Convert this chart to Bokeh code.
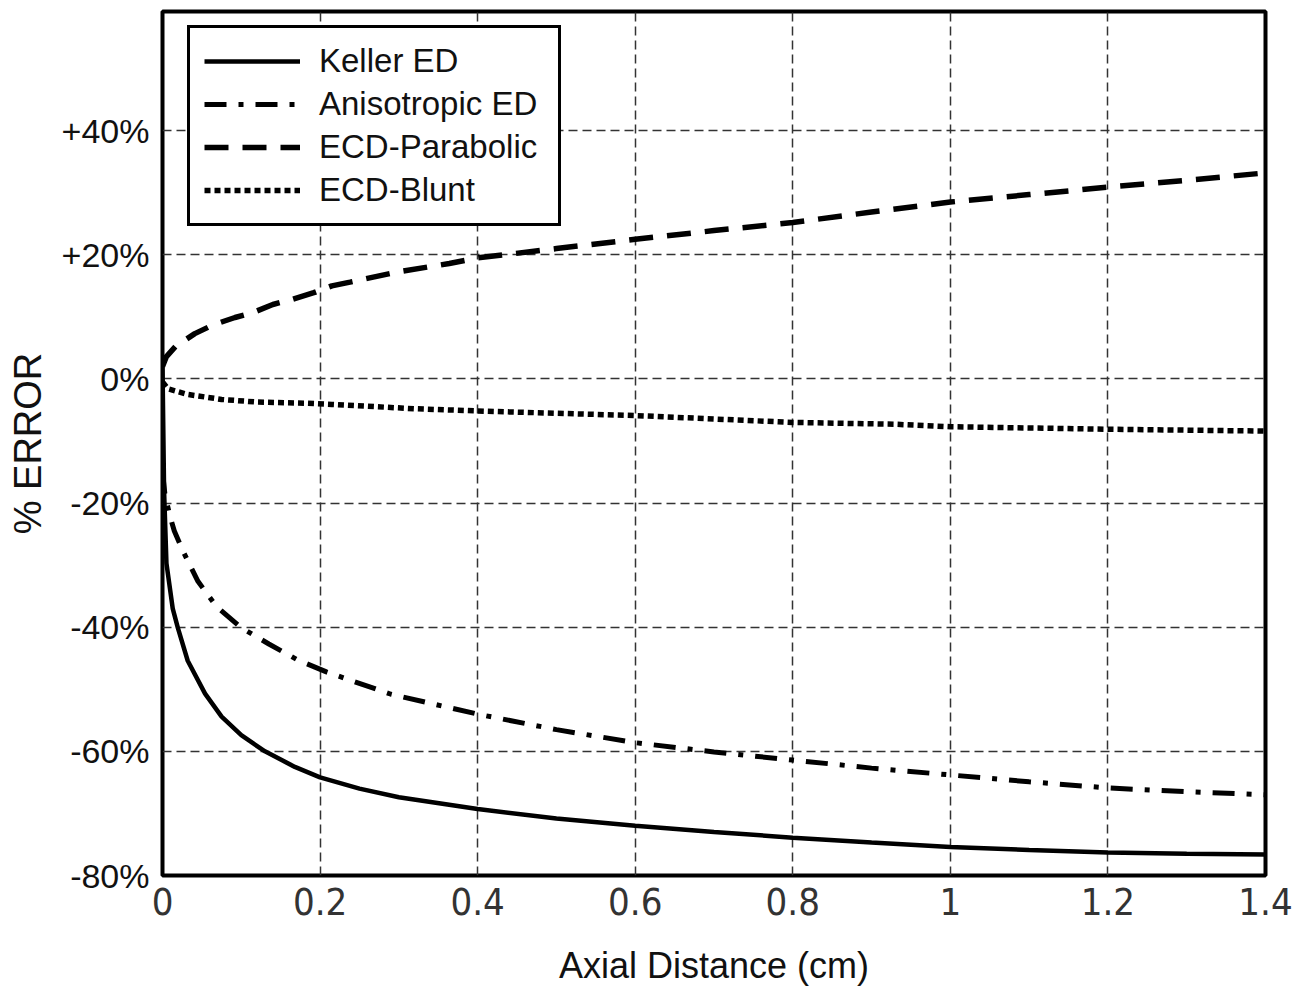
from bokeh.plotting import figure
from bokeh.models import Legend, LegendItem, FixedTicker, Range1d
from bokeh.embed import file_html
from bokeh.resources import INLINE

# ---- data ----
x_keller = [0, 0.002, 0.005, 0.013, 0.0195, 0.032, 0.054, 0.075, 0.1, 0.13, 0.168, 0.2,
            0.25, 0.3, 0.4, 0.5, 0.6, 0.7, 0.8, 0.9, 1.0, 1.1, 1.2, 1.3, 1.4]
y_keller = [2, -18, -29.7, -37.0, -40.1, -45.4, -50.7, -54.4, -57.4, -60.0, -62.5, -64.2,
            -66.0, -67.4, -69.3, -70.8, -72.0, -73.0, -73.9, -74.7, -75.4, -75.9, -76.3, -76.5, -76.6]

x_aniso = [0, 0.003, 0.009, 0.015, 0.027, 0.045, 0.068, 0.1, 0.135, 0.172, 0.208, 0.29,
           0.4, 0.5, 0.6, 0.7, 0.8, 0.9, 1.0, 1.1, 1.2, 1.3, 1.4]
y_aniso = [-15, -18.5, -21.9, -24.5, -28.0, -32.6, -36.6, -40.1, -42.7, -45.3, -47.2, -50.8,
           -54.0, -56.5, -58.6, -60.1, -61.4, -62.7, -63.8, -64.9, -65.9, -66.5, -67.0]

x_parab = [0, 0.005, 0.017, 0.041, 0.064, 0.092, 0.115, 0.14, 0.164, 0.192, 0.215, 0.238,
           0.297, 0.364, 0.4, 0.5, 0.6, 0.7, 0.8, 0.9, 1.0, 1.1, 1.2, 1.3, 1.4]
y_parab = [2, 3.6, 5.3, 7.3, 8.7, 9.9, 10.7, 12.0, 12.8, 13.9, 15.0, 15.6,
           17.2, 18.6, 19.5, 21.0, 22.5, 23.9, 25.2, 26.9, 28.5, 29.7, 30.9, 32.0, 33.2]

x_blunt = [0, 0.007, 0.032, 0.075, 0.117, 0.18, 0.215, 0.32, 0.41, 0.6, 0.8, 0.93, 1.0, 1.2, 1.4]
y_blunt = [-0.5, -1.6, -2.5, -3.3, -3.7, -3.9, -4.1, -4.8, -5.2, -5.9, -7.0, -7.3, -7.7, -8.1, -8.4]

series_names = ["Keller ED", "Anisotropic ED", "ECD-Parabolic", "ECD-Blunt"]

x_ticks = [0, 0.2, 0.4, 0.6, 0.8, 1.0, 1.2, 1.4]
x_tick_labels = ["0", "0.2", "0.4", "0.6", "0.8", "1", "1.2", "1.4"]
y_ticks = [-80, -60, -40, -20, 0, 20, 40]
y_tick_labels = ["-80%", "-60%", "-40%", "-20%", "0%", "+20%", "+40%"]

FONT = "Liberation Sans"
NARROW = "'Liberation Sans Narrow', 'DejaVu Sans Condensed', sans-serif"

p = figure(frame_width=1103, frame_height=864,
           x_range=Range1d(0, 1.4), y_range=Range1d(-80, 59.2),
           output_backend="svg", toolbar_location=None,
           min_border_left=162, min_border_top=11, min_border_right=34, min_border_bottom=100)
p.background_fill_color = "white"
p.border_fill_color = "white"
p.outline_line_color = "black"
p.outline_line_width = 4

# axes
p.xaxis.ticker = FixedTicker(ticks=x_ticks)
p.yaxis.ticker = FixedTicker(ticks=y_ticks)
p.xaxis.major_label_overrides = {t: l for t, l in zip(x_ticks, x_tick_labels)}
p.yaxis.major_label_overrides = {t: l for t, l in zip(y_ticks, y_tick_labels)}
for ax in (p.xaxis, p.yaxis):
    ax.axis_line_color = None
    ax.major_tick_line_color = None
    ax.minor_tick_line_color = None
    ax.major_tick_out = 0
    ax.major_tick_in = 0

p.xaxis.major_label_text_font = NARROW
p.xaxis.major_label_text_font_size = "38px"
p.xaxis.major_label_text_color = "#333333"
p.xaxis.major_label_standoff = 12
p.xaxis.axis_label = "Axial Distance (cm)"
p.xaxis.axis_label_text_font = FONT
p.xaxis.axis_label_text_font_size = "36px"
p.xaxis.axis_label_text_font_style = "normal"
p.xaxis.axis_label_text_color = "#111111"
p.xaxis.axis_label_standoff = 27

p.yaxis.major_label_text_font = FONT
p.yaxis.major_label_text_font_size = "34px"
p.yaxis.major_label_text_color = "#111111"
p.yaxis.major_label_standoff = 13
p.yaxis.axis_label = "% ERROR"
p.yaxis.axis_label_text_font = FONT
p.yaxis.axis_label_text_font_size = "38px"
p.yaxis.axis_label_text_font_style = "normal"
p.yaxis.axis_label_text_color = "#111111"
p.yaxis.axis_label_standoff = 10

# grid
for g in (p.xgrid, p.ygrid):
    g.grid_line_color = "#333333"
    g.grid_line_width = 1.5
    g.grid_line_dash = "9 5"

# curves
r1 = p.line(x_keller, y_keller, line_color="black", line_width=4.5)
r2 = p.line(x_aniso, y_aniso, line_color="black", line_width=5, line_dash="22 12 5 12")
r3 = p.line(x_parab, y_parab, line_color="black", line_width=5.5, line_dash="24 14")
r4 = p.line(x_blunt, y_blunt, line_color="black", line_width=5.5, line_dash="6 4")

legend = Legend(items=[LegendItem(label=n, renderers=[r]) for n, r in zip(series_names, [r1, r2, r3, r4])],
                location=(25, 649))
legend.label_text_font = FONT
legend.label_text_font_size = "33px"
legend.label_text_color = "#111111"
legend.label_height = 36
legend.label_width = 225
legend.glyph_height = 20
legend.glyph_width = 96
legend.label_standoff = 19
legend.spacing = 5
legend.padding = 14
legend.margin = 0
legend.border_line_color = "black"
legend.border_line_alpha = 1.0
legend.border_line_width = 3
legend.background_fill_color = "white"
legend.background_fill_alpha = 1
p.add_layout(legend)

open("out.html", "w").write(file_html(p, INLINE))
